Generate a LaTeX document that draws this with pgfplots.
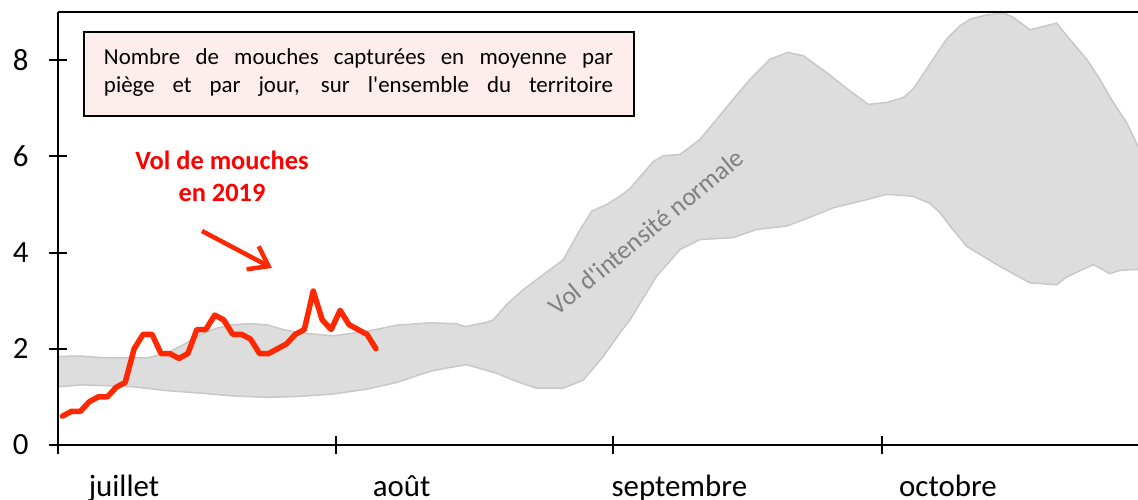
\documentclass[border=0pt]{standalone}
\usepackage{fontspec}
\setmainfont{Carlito}
\usepackage{pgfplots}
\usepackage{pgfplotstable}
\pgfplotsset{compat=1.18}
\usepgfplotslibrary{fillbetween}
\usetikzlibrary{arrows.meta}
\definecolor{bandfill}{RGB}{221,221,221}
\definecolor{bandedge}{RGB}{200,200,200}
\definecolor{flyred}{RGB}{255,40,0}
\definecolor{boxpink}{RGB}{253,237,237}
\definecolor{txtgray}{RGB}{128,128,128}

\pgfplotstableread{
d v
0 1.84
2.46 1.85
5.44 1.81
9.90 1.81
12.14 1.91
13.96 2.08
15.85 2.29
17.72 2.43
19.54 2.50
21.44 2.52
23.30 2.50
25.12 2.40
27.02 2.33
30.70 2.27
34.46 2.36
37.81 2.49
41.53 2.54
44.51 2.52
45.44 2.46
47.86 2.55
48.60 2.60
50.09 2.92
51.95 3.23
54.18 3.54
56.41 3.85
58.09 4.41
59.58 4.86
61.26 5.00
62.74 5.17
63.86 5.33
66.46 5.89
67.58 6.01
69.44 6.04
71.67 6.35
73.54 6.77
75.39 7.19
77.26 7.60
79.49 8.02
81.53 8.16
83.21 8.09
85.82 7.74
88.42 7.36
90.47 7.08
92.52 7.12
94.37 7.22
95.49 7.40
97.35 7.92
99.22 8.44
100.70 8.71
101.82 8.85
103.68 8.94
105.54 8.98
106.65 8.89
108.52 8.63
111.50 8.77
112.61 8.51
114.85 8.02
116.33 7.60
117.82 7.12
119.31 6.70
120.57 6.21
}\uptab

\pgfplotstableread{
d v
0 1.21
2.79 1.25
8.37 1.21
12.14 1.13
15.85 1.08
19.54 1.02
23.30 0.99
27.02 1.01
30.70 1.06
34.46 1.16
37.81 1.30
41.53 1.53
43.40 1.60
45.63 1.67
48.98 1.49
51.21 1.32
53.44 1.18
56.41 1.18
58.65 1.35
60.88 1.84
62.74 2.33
63.86 2.60
66.84 3.51
69.44 4.06
71.67 4.27
75.39 4.31
78.00 4.48
81.35 4.55
84.32 4.76
86.56 4.93
90.29 5.10
92.52 5.21
95.49 5.17
97.35 5.02
98.47 4.83
99.59 4.55
101.45 4.13
104.80 3.75
108.52 3.37
111.50 3.33
112.61 3.49
115.59 3.75
117.45 3.56
118.57 3.63
120.57 3.65
}\lowtab

\pgfplotstableread{
d v
0.5 0.6
1.5 0.7
2.5 0.7
3.5 0.9
4.5 1.0
5.5 1.0
6.5 1.2
7.5 1.3
8.5 2.0
9.5 2.3
10.5 2.3
11.5 1.9
12.5 1.9
13.5 1.8
14.5 1.9
15.5 2.4
16.5 2.4
17.5 2.7
18.5 2.6
19.5 2.3
20.5 2.3
21.5 2.2
22.5 1.9
23.5 1.9
24.5 2.0
25.5 2.1
26.5 2.3
27.5 2.4
28.5 3.2
29.5 2.6
30.5 2.4
31.5 2.8
32.5 2.5
33.5 2.4
34.5 2.3
35.5 2.0
}\fliestab

\begin{document}
\begin{tikzpicture}
\begin{axis}[
  at={(0,0)}, anchor=south west,
  scale only axis, width=1080bp, height=433bp,
  xmin=0, xmax=120.58, ymin=0, ymax=9,
  axis lines*=left,
  axis line style={line width=2bp, -},
  axis on top,
  clip=false,
  xtick={0,31,62,92},
  xticklabels={juillet,août,septembre,octobre},
  ytick={0,2,4,6,8},
  tick align=center,
  major tick length=18bp,
  tick style={line width=2bp, black},
  /pgf/number format/assume math mode=true,
  ticklabel style={font=\fontsize{31}{36}\selectfont},
  xticklabel style={anchor=base, yshift=-42bp, xshift=66bp},
  yticklabel style={anchor=east, xshift=-17bp},
]
\addplot[draw=none, name path=U, forget plot] table[x=d, y=v] {\uptab};
\addplot[draw=none, name path=L, forget plot] table[x=d, y=v] {\lowtab};
\addplot[bandfill, draw=none] fill between[of=U and L];
\addplot[bandedge, line width=1.5bp] table[x=d, y=v] {\uptab};
\addplot[bandedge, line width=1.5bp] table[x=d, y=v] {\lowtab};
\addplot[flyred, line width=5.5bp, line join=round, line cap=round] table[x=d, y=v] {\fliestab};

\draw[line width=2bp] (rel axis cs:0,1) -- (rel axis cs:1,1);

\node[draw=black, line width=2bp, fill=boxpink, minimum width=550bp, minimum height=84bp, inner sep=0pt] at (axis cs:33.61,7.711) {};
\node[anchor=base, inner sep=0pt, font=\fontsize{23}{27}\selectfont] at (axis cs:33.55,7.913) {\makebox[509bp][s]{Nombre de mouches capturées en moyenne par}};
\node[anchor=base, inner sep=0pt, font=\fontsize{23}{27}\selectfont] at (axis cs:33.55,7.323) {\makebox[509bp][s]{piège et par jour, sur l\textquotesingle ensemble du territoire}};

\node[anchor=base, inner sep=0pt, text=red, font=\fontsize{26.5}{31}\selectfont\bfseries] at (axis cs:18.31,5.716) {Vol de mouches};
\node[anchor=base, inner sep=0pt, text=red, font=\fontsize{26.5}{31}\selectfont\bfseries] at (axis cs:18.31,5.057) {en 2019};

\draw[flyred, line width=4.5bp, -{Straight Barb[length=18bp, width=26bp, line width=4.5bp]}] (axis cs:16.08,4.448) -- (axis cs:23.89,3.679);

\node[rotate=39.5, text=txtgray, inner sep=0pt, font=\fontsize{26}{30}\selectfont] at (axis cs:65.65,4.427) {Vol d\textquotesingle intensité normale};
\end{axis}
\pgfresetboundingbox
\path[use as bounding box] (-58bp,-55bp) rectangle (1080bp,445bp);
\end{tikzpicture}
\end{document}
